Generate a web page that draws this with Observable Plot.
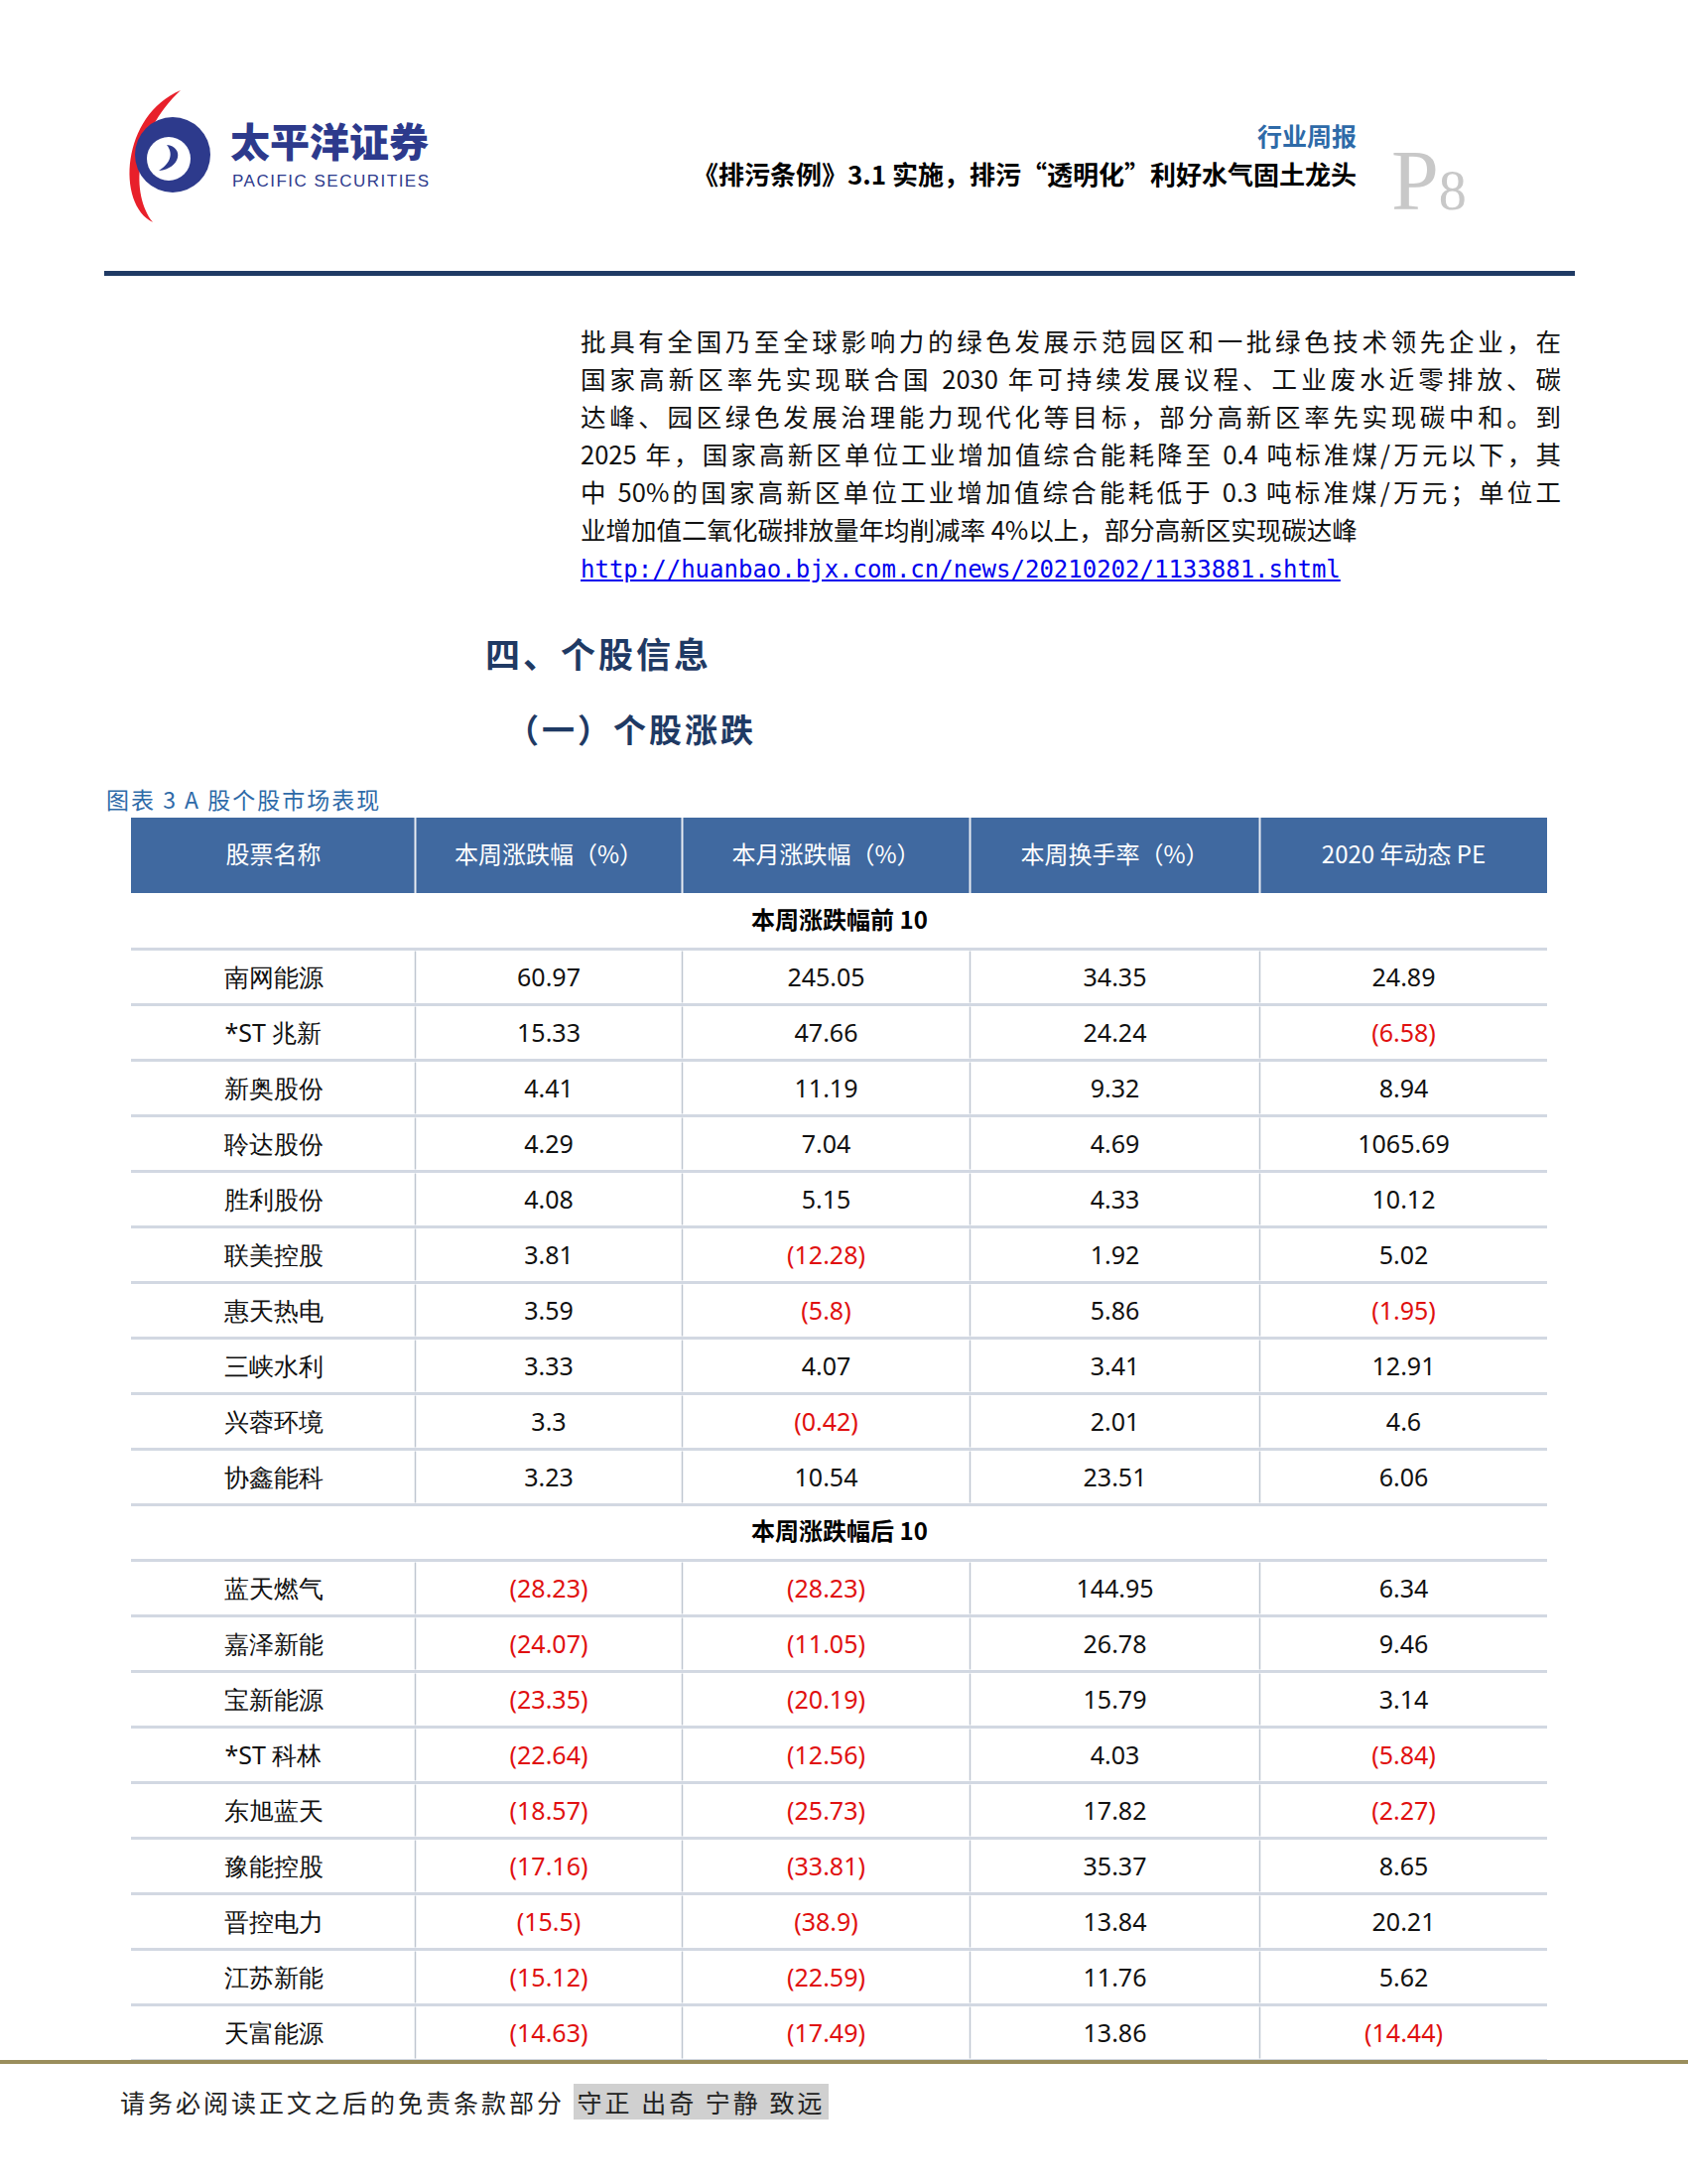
<!DOCTYPE html>
<html><head><meta charset="utf-8">
<script src="https://cdn.jsdelivr.net/npm/d3@7"></script>
<script src="https://cdn.jsdelivr.net/npm/@observablehq/plot@0.6"></script>
<style>
body{margin:0;width:1701px;height:2201px;position:relative;background:#fff;font-family:"Noto Sans CJK SC",sans-serif;overflow:hidden}
.abs{position:absolute;white-space:nowrap}
.para div{text-align:justify;text-align-last:justify;width:988px;height:38px}
</style></head><body>
<svg class="abs" style="left:112px;top:86px" width="330" height="145">
  <path d="M70,5 C10,30 5,120 42,138 C20,110 22,50 70,5Z" fill="#e8202a"/>
  <circle cx="62" cy="70" r="38" fill="#2d3a8c"/>
  <circle cx="58" cy="74" r="22" fill="#fff"/>
  <path d="M48,86 C70,84 74,62 56,60 C64,70 58,80 48,86Z" fill="#2d3a8c"/>
  <text x="120" y="72" font-size="40" font-weight="900" fill="#2d3a8c">太平洋证券</text>
  <text x="122" y="102" font-size="17" fill="#2d3a8c" font-family="Liberation Sans" letter-spacing="1.5">PACIFIC SECURITIES</text>
</svg>
<div class="abs" style="right:334px;top:118px;font-size:25px;color:#2e6aa8;font-weight:bold">行业周报</div>
<div class="abs" style="right:334px;top:156px;font-size:26px;color:#000;font-weight:bold">《排污条例》3.1 实施，排污“透明化”利好水气固土龙头</div>
<div class="abs" style="left:1402px;top:132px;font-size:86px;color:#c8c8c8;font-family:'Liberation Serif'">P<span style="font-size:56px">8</span></div>
<div class="abs" style="left:105px;top:273px;width:1482px;height:5px;background:#1f3a64"></div>
<div class="abs para" style="left:585px;top:324px;font-size:25.5px;line-height:38px;color:#111">
<div>批具有全国乃至全球影响力的绿色发展示范园区和一批绿色技术领先企业，在</div>
<div>国家高新区率先实现联合国 2030 年可持续发展议程、工业废水近零排放、碳</div>
<div>达峰、园区绿色发展治理能力现代化等目标，部分高新区率先实现碳中和。到</div>
<div>2025 年，国家高新区单位工业增加值综合能耗降至 0.4 吨标准煤/万元以下，其</div>
<div>中 50%的国家高新区单位工业增加值综合能耗低于 0.3 吨标准煤/万元；单位工</div>
<div style="text-align-last:left">业增加值二氧化碳排放量年均削减率 4%以上，部分高新区实现碳达峰</div>
<span style="color:#0000ee;text-decoration:underline;font-family:'DejaVu Sans Mono';font-size:24px">http://huanbao.bjx.com.cn/news/20210202/1133881.shtml</span></div>
<div class="abs" style="left:489px;top:632px;font-size:35px;font-weight:bold;color:#1f3a64;letter-spacing:3px">四、个股信息</div>
<div class="abs" style="left:510px;top:710px;font-size:33px;font-weight:bold;color:#1f3a64;letter-spacing:3px">（一）个股涨跌</div>
<div class="abs" style="left:107px;top:788px;font-size:23px;color:#2e6aa8;letter-spacing:2px">图表 3 A 股个股市场表现</div>
<div id="chart" class="abs" style="left:0;top:824px"></div>
<div class="abs" style="left:0;top:2076px;width:1701px;height:4px;background:#9a8e5c"></div>
<div class="abs" style="left:121px;top:2100px;font-size:25px;color:#222;letter-spacing:3px">请务必阅读正文之后的免责条款部分 <span style="background:#d0d0d0;padding:0 4px">守正 出奇 宁静 致远</span></div>
<script>
const headers = ['股票名称', '本周涨跌幅（%）', '本月涨跌幅（%）', '本周换手率（%）', '2020 年动态 PE']
const section1 = '本周涨跌幅前 10'
const section2 = '本周涨跌幅后 10'
const topNames = ['南网能源', '*ST 兆新', '新奥股份', '聆达股份', '胜利股份', '联美控股', '惠天热电', '三峡水利', '兴蓉环境', '协鑫能科']
const topWeek = [60.97, 15.33, 4.41, 4.29, 4.08, 3.81, 3.59, 3.33, 3.3, 3.23]
const topMonth = [245.05, 47.66, 11.19, 7.04, 5.15, -12.28, -5.8, 4.07, -0.42, 10.54]
const topTurn = [34.35, 24.24, 9.32, 4.69, 4.33, 1.92, 5.86, 3.41, 2.01, 23.51]
const topPE = [24.89, -6.58, 8.94, 1065.69, 10.12, 5.02, -1.95, 12.91, 4.6, 6.06]
const botNames = ['蓝天燃气', '嘉泽新能', '宝新能源', '*ST 科林', '东旭蓝天', '豫能控股', '晋控电力', '江苏新能', '天富能源']
const botWeek = [-28.23, -24.07, -23.35, -22.64, -18.57, -17.16, -15.5, -15.12, -14.63]
const botMonth = [-28.23, -11.05, -20.19, -12.56, -25.73, -33.81, -38.9, -22.59, -17.49]
const botTurn = [144.95, 26.78, 15.79, 4.03, 17.82, 35.37, 13.84, 11.76, 13.86]
const botPE = [6.34, 9.46, 3.14, -5.84, -2.27, 8.65, 20.21, 5.62, -14.44]

// layout
const colEdges = [0, 286, 555, 845, 1137, 1427]
const headH = 76, rowH = 56
const mid = i => (colEdges[i] + colEdges[i + 1]) / 2

const rows = [{kind: 'sec', label: section1}]
topNames.forEach((n, i) => rows.push({kind: 'data', vals: [n, topWeek[i], topMonth[i], topTurn[i], topPE[i]]}))
rows.push({kind: 'sec', label: section2})
botNames.forEach((n, i) => rows.push({kind: 'data', vals: [n, botWeek[i], botMonth[i], botTurn[i], botPE[i]]}))
rows.forEach((r, i) => { r.top = headH + i * rowH; r.bot = r.top + rowH })

const fmt = v => v < 0 ? `(${-v})` : String(v)
const cells = []
rows.filter(r => r.kind === 'data').forEach(r => r.vals.forEach((v, c) => cells.push({
  x: mid(c), y: r.top + rowH / 2 + 1,
  text: c === 0 ? v : fmt(v), neg: c > 0 && v < 0, name: c === 0
})))
const vlines = []
rows.filter(r => r.kind === 'data').forEach(r => colEdges.slice(1, 5).forEach(e => vlines.push({x: e, y1: r.top + 2, y2: r.bot - 2})))
const totalH = headH + rows.length * rowH

const chart = Plot.plot({
  width: 1701, height: totalH + 4,
  margin: 0,
  x: {domain: [0, 1427], range: [132, 1559], axis: null},
  y: {domain: [0, totalH + 4], range: [0, totalH + 4], axis: null},
  style: {background: 'transparent'},
  marks: [
    Plot.rect([0], {x1: 0, x2: 1427, y1: 0, y2: headH, fill: '#4069a0'}),
    Plot.ruleX(colEdges.slice(1, 5), {y1: 0, y2: headH, stroke: '#e8ecf2', strokeWidth: 2}),
    Plot.text(headers, {x: (d, i) => mid(i), y: headH / 2, text: d => d, fill: '#fff', fontSize: 24,
      fontFamily: '"Noto Sans CJK SC"', letterSpacing: 3}),
    Plot.ruleY(rows, {y: 'bot', x1: 0, x2: 1427, stroke: '#d2d8e2', strokeWidth: 3}),
    Plot.link(vlines, {x1: 'x', x2: 'x', y1: 'y1', y2: 'y2', stroke: '#bfc6d0', strokeWidth: 1.5}),
    Plot.text(rows.filter(r => r.kind === 'sec'), {x: 1427 / 2, y: d => d.top + rowH / 2, text: 'label',
      fontSize: 24, fontWeight: 'bold', fill: '#000', fontFamily: '"Noto Sans CJK SC"'}),
    Plot.text(cells, {x: 'x', y: 'y', text: 'text', fill: d => d.neg ? '#e01010' : '#111',
      fontSize: 25, letterSpacing: d => d.name ? 4 : 0.5,
      fontFamily: d => d.name ? '"Noto Sans CJK SC"' : '"Liberation Sans"'})
  ]
})
document.getElementById('chart').append(chart)
</script>
</body></html>
